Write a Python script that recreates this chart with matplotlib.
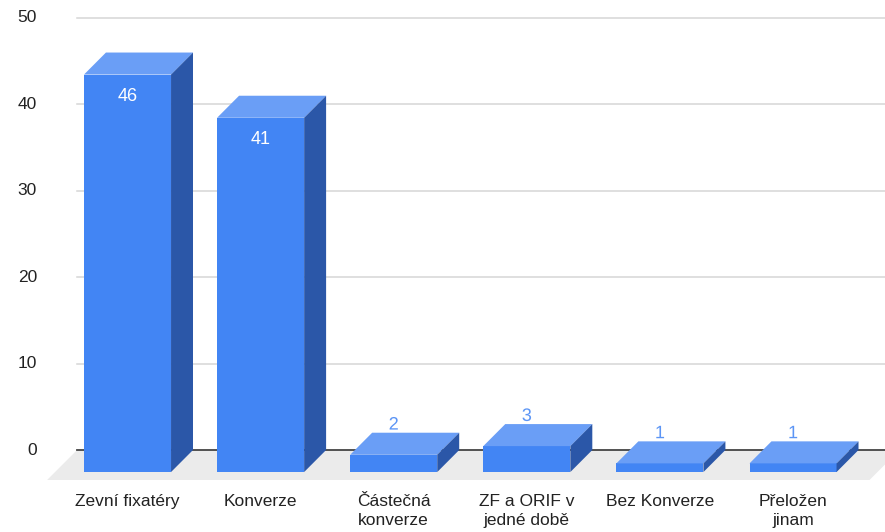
import matplotlib

matplotlib.use("Agg")
import matplotlib.pyplot as plt
import matplotlib.patheffects as pe
from matplotlib.patches import Polygon

categories = [
    "Zevní fixatéry",
    "Konverze",
    "Částečná\nkonverze",
    "ZF a ORIF v\njedné době",
    "Bez Konverze",
    "Přeložen\njinam",
]
values = [46, 41, 2, 3, 1, 1]
y_ticks = [0, 10, 20, 30, 40, 50]

FRONT = "#4285f4"
TOP = "#6a9ef6"
SIDE = "#2b57a8"
FLOOR = "#ebebeb"
GRID = "#d6d6d6"
TEXT = "#222222"
OUT_LABEL = "#5c95f5"

# depth of the fake 3d, in data units (x: categories, y: values)
DX, DY = 0.165, 2.55
FLOOR_DX, FLOOR_DY = 0.225, 3.47
WIDTH = 0.654

plt.rcParams["font.family"] = ["Liberation Sans", "DejaVu Sans"]

fig = plt.figure(figsize=(8.85, 5.32), dpi=100)
ax = fig.add_axes([0, 0, 1, 1])
ax.set_xlim(-0.958, 5.691)
ax.set_ylim(-9.49, 52.08)
ax.axis("off")

x_left = -0.379
x_right = 5.8

for t in y_ticks[1:]:
    ax.plot([x_left, x_right], [t, t], color=GRID, lw=1.1, zorder=1)
for t in y_ticks:
    ax.text(-0.68, t, str(t), ha="right", va="center", fontsize=12.5, color=TEXT)

# floor
floor = Polygon(
    [(x_left, 0), (x_right, 0), (x_right - FLOOR_DX, -FLOOR_DY), (x_left - FLOOR_DX, -FLOOR_DY)],
    closed=True, facecolor=FLOOR, edgecolor="none", zorder=2,
)
ax.add_patch(floor)
ax.plot([x_left, x_right], [0, 0], color="#444444", lw=1.3, zorder=3)

for i, (label, v) in enumerate(zip(categories, values)):
    l, r = i - WIDTH / 2, i + WIDTH / 2
    front = Polygon([(l, -DY), (r, -DY), (r, v - DY), (l, v - DY)], closed=True,
                    facecolor=FRONT, edgecolor="none", zorder=5)
    top = Polygon([(l, v - DY), (r, v - DY), (r + DX, v), (l + DX, v)], closed=True,
                  facecolor=TOP, edgecolor="none", zorder=5)
    side = Polygon([(r, -DY), (r, v - DY), (r + DX, v), (r + DX, 0)], closed=True,
                   facecolor=SIDE, edgecolor="none", zorder=5)
    for p in (front, top, side):
        ax.add_patch(p)

    if v > 10:
        ax.text(i, v - DY - 2.55, str(v), ha="center", va="center",
                fontsize=13, color="white", zorder=6)
    else:
        ax.text(i, v - 0.1, str(v), ha="center", va="bottom", fontsize=13,
                color=OUT_LABEL, zorder=6,
                path_effects=[pe.withStroke(linewidth=3, foreground="white")])

    ax.text(i, -5.1, label, ha="center", va="top", fontsize=12.5, color=TEXT,
            linespacing=1.35, multialignment="center")

fig.savefig("out.png", dpi=100)
plt.close(fig)
